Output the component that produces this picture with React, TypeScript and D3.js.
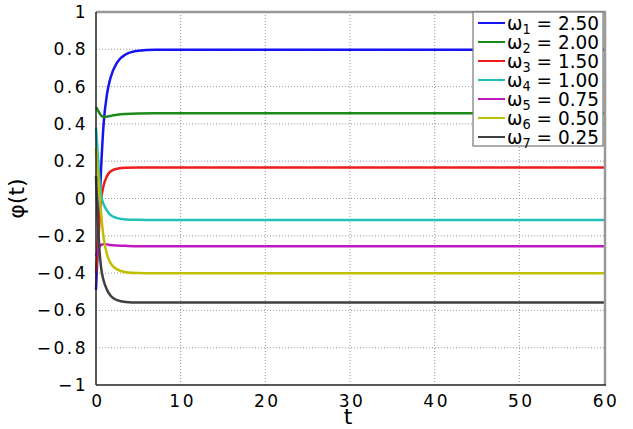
import React, { useEffect, useRef } from 'react';
import * as d3 from 'd3';

// sample times (shared by all series)
const tValues = [0, 0.2, 0.4, 0.6, 0.9, 1.3, 1.7, 2.5, 3.5, 5, 7, 60];

// phi(t), one array per omega
const omega1 = [-0.49, -0.27, -0.05, 0.16, 0.4, 0.56, 0.645, 0.73, 0.772, 0.792, 0.797, 0.797];
const omega2 = [0.49, 0.475, 0.458, 0.445, 0.437, 0.439, 0.443, 0.449, 0.453, 0.456, 0.457, 0.457];
const omega3 = [-0.4, -0.28, -0.13, -0.01, 0.07, 0.12, 0.145, 0.16, 0.165, 0.166, 0.166, 0.166];
const omega4 = [0.38, 0.24, 0.11, 0.02, -0.03, -0.065, -0.088, -0.105, -0.112, -0.114, -0.115, -0.115];
const omega5 = [-0.31, -0.28, -0.258, -0.248, -0.245, -0.246, -0.249, -0.252, -0.254, -0.256, -0.256, -0.256];
const omega6 = [0.27, 0.15, 0.03, -0.08, -0.21, -0.3, -0.345, -0.38, -0.395, -0.4, -0.401, -0.401];
const omega7 = [0.12, -0.1, -0.27, -0.37, -0.44, -0.49, -0.52, -0.545, -0.555, -0.558, -0.558, -0.558];

const legendValues = ['2.50', '2.00', '1.50', '1.00', '0.75', '0.50', '0.25'];
const colors = ['#1414f0', '#1a8a1a', '#ee1c1c', '#20c0b8', '#c018c0', '#c0c000', '#404040'];

const xTicks = [0, 10, 20, 30, 40, 50, 60];
const yTicks = [-1, -0.8, -0.6, -0.4, -0.2, 0, 0.2, 0.4, 0.6, 0.8, 1];

export default function App() {
  const ref = useRef<SVGSVGElement>(null);

  useEffect(() => {
    const svg = d3.select(ref.current);
    svg.selectAll('*').remove();

    const left = 96, right = 604, top = 12, bottom = 385;
    const x = d3.scaleLinear().domain([0, 60]).range([left, right]);
    const y = d3.scaleLinear().domain([-1, 1]).range([bottom, top]);

    const font = 'DejaVu Sans, sans-serif';

    // grid
    const grid = svg.append('g');
    grid.selectAll('.gx').data(xTicks.slice(1, -1)).enter().append('line')
      .attr('x1', d => x(d)).attr('x2', d => x(d))
      .attr('y1', top).attr('y2', bottom)
      .attr('stroke', '#9a9a9a').attr('stroke-width', 1).attr('stroke-dasharray', '1,2');
    grid.selectAll('.gy').data(yTicks.slice(1, -1)).enter().append('line')
      .attr('x1', left).attr('x2', right)
      .attr('y1', d => y(d)).attr('y2', d => y(d))
      .attr('stroke', '#9a9a9a').attr('stroke-width', 1).attr('stroke-dasharray', '1,2');

    // curves
    const series = [omega1, omega2, omega3, omega4, omega5, omega6, omega7];
    const line = d3.line<number>()
      .x((_, i) => x(tValues[i]))
      .y(d => y(d))
      .curve(d3.curveMonotoneX);

    svg.append('g').selectAll('path').data(series).enter().append('path')
      .attr('d', d => line(d))
      .attr('fill', 'none')
      .attr('stroke', (_, i) => colors[i])
      .attr('stroke-width', 2.5);

    // frame
    svg.append('line').attr('x1', left).attr('x2', right + 2).attr('y1', top).attr('y2', top)
      .attr('stroke', '#999').attr('stroke-width', 2.5);
    svg.append('line').attr('x1', right + 1).attr('x2', right + 1).attr('y1', top).attr('y2', bottom)
      .attr('stroke', '#999').attr('stroke-width', 2.5);
    svg.append('line').attr('x1', left).attr('x2', left).attr('y1', top).attr('y2', bottom)
      .attr('stroke', '#222').attr('stroke-width', 1.5);
    svg.append('line').attr('x1', left).attr('x2', right + 2).attr('y1', bottom).attr('y2', bottom)
      .attr('stroke', '#222').attr('stroke-width', 1.5);

    // tick labels
    const fmt = (d: number) => {
      if (d === 0 || Math.abs(d) === 1) return d < 0 ? '\u2212' + Math.abs(d) : String(d);
      const s = Math.abs(d).toFixed(1);
      return (d < 0 ? '\u2212' : '') + s;
    };
    svg.append('g').selectAll('text').data(yTicks).enter().append('text')
      .attr('x', 88).attr('y', d => y(d) + 6)
      .attr('text-anchor', 'end')
      .attr('font-family', font).attr('font-size', 17)
      .attr('letter-spacing', 2.5)
      .text(d => fmt(d));
    svg.append('g').selectAll('text').data(xTicks).enter().append('text')
      .attr('x', d => x(d) + 2).attr('y', bottom + 22)
      .attr('text-anchor', 'middle')
      .attr('font-family', font).attr('font-size', 17)
      .attr('letter-spacing', 2.5)
      .text(d => String(d));

    // axis titles
    svg.append('text').attr('x', x(30) - 2).attr('y', 424)
      .attr('text-anchor', 'middle').attr('font-family', font).attr('font-size', 22)
      .text('t');
    svg.append('text').attr('transform', `translate(24,${y(0)}) rotate(-90)`)
      .attr('text-anchor', 'middle').attr('font-family', font).attr('font-size', 22)
      .text('\u03c6(t)');

    // legend
    const lg = svg.append('g');
    lg.append('rect').attr('x', 473).attr('y', 12).attr('width', 130).attr('height', 134)
      .attr('fill', 'white').attr('stroke', '#777').attr('stroke-width', 1.2);
    legendValues.forEach((v, i) => {
      const cy = 23 + i * 19;
      lg.append('line').attr('x1', 478).attr('x2', 505).attr('y1', cy).attr('y2', cy)
        .attr('stroke', colors[i]).attr('stroke-width', 2);
      const t = lg.append('text').attr('x', 507).attr('y', cy + 7)
        .attr('font-family', font).attr('font-size', 20).attr('textLength', 92)
        .attr('lengthAdjust', 'spacingAndGlyphs');
      t.append('tspan').text('\u03c9');
      t.append('tspan').attr('font-size', 14).attr('dy', 4).text(String(i + 1));
      t.append('tspan').attr('dy', -4).text(' = ' + v);
    });
  }, []);

  return (
    <svg ref={ref} width={633} height={429}
      style={{ position: 'absolute', left: 0, top: 0, background: 'white' }} />
  );
}
